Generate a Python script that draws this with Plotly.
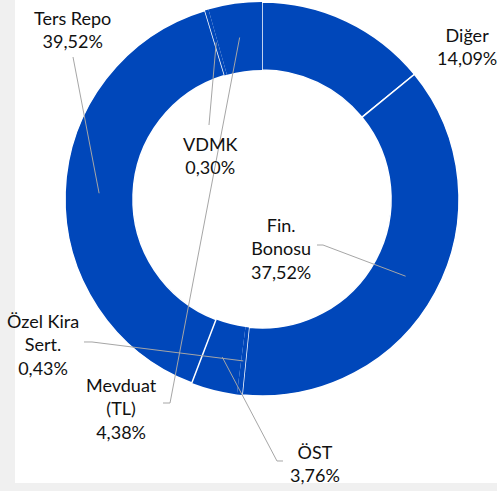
import numpy as np
import plotly.graph_objects as go

# veri
labels = ["Diğer", "Fin. Bonosu", "Özel Kira Sert.", "ÖST", "Ters Repo", "VDMK", "Mevduat (TL)"]
values = [14.09, 37.52, 0.43, 3.76, 39.52, 0.30, 4.38]
label_text = ["Diğer<br>14,09%", "Fin.<br>Bonosu<br>37,52%", "Özel Kira<br>Sert.<br>0,43%",
              "ÖST<br>3,76%", "Ters Repo<br>39,52%", "VDMK<br>0,30%", "Mevduat<br>(TL)<br>4,38%"]

W, H = 497, 491
# pasta merkezi ve yaricap (piksel)
cx, cy, R = 262, 199, 197
hole = 0.655

# etiket merkezleri ve cizgi baslangiclari (piksel)
lab_pos = [(467, 47), (281, 248), (43, 344), (315, 463), (72, 30), (210, 155), (121, 408)]
lead_start = [None, [(317, 245), (323, 245)], [(84, 342), (92, 342)], [(283, 461), (277, 461)],
              [(73, 57)], [(209, 125)], [(163, 403), (170, 403)]]
border_w = [1.5, 1.5, 0, 0, 1.5, 0, 0]

def px(x, y):
    return x / W, 1 - y / H

fig = go.Figure(go.Pie(
    labels=labels, values=values, sort=False, direction="clockwise", rotation=0,
    hole=hole, textinfo="none", hoverinfo="label+percent",
    marker=dict(colors=["#0047BA"] * len(values), line=dict(color="white", width=border_w)),
    domain=dict(x=[(cx - R) / W, (cx + R) / W], y=[1 - (cy + R) / H, 1 - (cy - R) / H]),
    showlegend=False,
))

# dilim orta acilari
v = np.array(values)
cum = np.cumsum(v) - v / 2
ang = np.deg2rad(cum / v.sum() * 360)
rm = R * (1 + hole) / 2

shapes = [dict(type="rect", xref="paper", yref="paper", x0=15 / W, x1=1, y0=1 - 483 / H, y1=1,
               fillcolor="white", line=dict(width=0), layer="below")]
annotations = []
for i, t in enumerate(label_text):
    x, y = px(*lab_pos[i])
    annotations.append(dict(x=x, y=y, xref="paper", yref="paper", text=t, showarrow=False,
                            xanchor="center", yanchor="middle", align="center",
                            font=dict(family="Lato", size=18, color="#111111")))
    if lead_start[i] is not None:
        ex = cx + rm * np.sin(ang[i])
        ey = cy - rm * np.cos(ang[i])
        pts = lead_start[i] + [(ex, ey)]
        path = " ".join(("M" if k == 0 else "L") + " %.4f %.4f" % px(a, b) for k, (a, b) in enumerate(pts))
        shapes.append(dict(type="path", xref="paper", yref="paper", path=path,
                           line=dict(color="#A6A6A6", width=1)))

fig.update_layout(width=W, height=H, margin=dict(l=0, r=0, t=0, b=0),
                  paper_bgcolor="#F0F0F0", plot_bgcolor="white",
                  shapes=shapes, annotations=annotations)
fig.write_html("out.html", config={"displayModeBar": False},
               post_script="document.body.style.margin='0';document.body.style.overflow='hidden';")
